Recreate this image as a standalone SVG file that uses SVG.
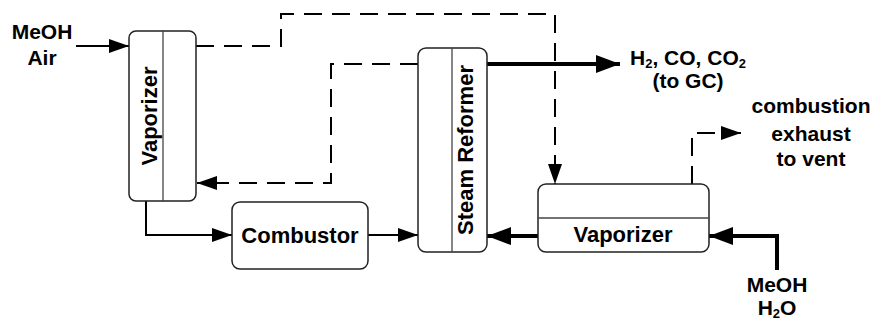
<svg xmlns="http://www.w3.org/2000/svg" width="871" height="322" viewBox="0 0 871 322">
<defs>
<style>
.box{fill:#fff;stroke:#222;stroke-width:1.5}
.div{stroke:#444;stroke-width:1.3}
.lbl{font-family:"Liberation Sans",Arial,sans-serif;font-weight:bold;font-size:22px;fill:#000;text-anchor:middle}
.txt{font-family:"Liberation Sans",Arial,sans-serif;font-weight:bold;font-size:21px;fill:#000;text-anchor:middle}
.thin{fill:none;stroke:#000;stroke-width:2}
.thick{fill:none;stroke:#000;stroke-width:4}
.dash{fill:none;stroke:#000;stroke-width:2;stroke-dasharray:18 10}
</style>
<marker id="ah" markerUnits="userSpaceOnUse" markerWidth="20" markerHeight="14" refX="20" refY="7" orient="auto"><path d="M0,0 L20,7 L0,14 z" fill="#000"/></marker>
<marker id="ahT" markerUnits="userSpaceOnUse" markerWidth="24" markerHeight="18" refX="24" refY="9" orient="auto"><path d="M0,0 L24,9 L0,18 z" fill="#000"/></marker>
</defs>

<g id="connectors">
<path class="thin" d="M76,46 H129" marker-end="url(#ah)"/>
<path class="thin" d="M146,201 V235 H232" marker-end="url(#ah)"/>
<path class="thin" d="M368,235 H418" marker-end="url(#ah)"/>
<path class="dash" d="M196,46 H281 V14 H555 V184" marker-end="url(#ah)"/>
<path class="dash" d="M418,64 H331 V183 H197" marker-end="url(#ah)"/>
<path class="thick" d="M487,64 H620" marker-end="url(#ahT)"/>
<path class="thick" d="M538,236 H487" marker-end="url(#ahT)"/>
<path class="thick" d="M777,270 V236 H709" marker-end="url(#ahT)"/>
<path class="dash" d="M692,184 V133 H741" marker-end="url(#ah)"/>
</g>

<g id="vaporizer-left">
<rect class="box" x="129" y="31" width="67" height="170" rx="7"/>
<line class="div" x1="163" y1="31" x2="163" y2="201"/>
<text class="lbl" transform="translate(157,116) rotate(-90)">Vaporizer</text>
</g>

<g id="combustor">
<rect class="box" x="232" y="202" width="136" height="67" rx="8"/>
<text class="lbl" x="300" y="243">Combustor</text>
</g>

<g id="steam-reformer">
<rect class="box" x="418" y="48" width="69" height="204" rx="8"/>
<line class="div" x1="452" y1="48" x2="452" y2="252"/>
<text class="lbl" transform="translate(473,150) rotate(-90)">Steam Reformer</text>
</g>

<g id="vaporizer-right">
<rect class="box" x="538" y="184" width="171" height="68" rx="8"/>
<line class="div" x1="538" y1="218" x2="709" y2="218"/>
<text class="lbl" x="623" y="242">Vaporizer</text>
</g>

<g id="labels">
<text class="txt" x="42" y="39">MeOH</text>
<text class="txt" x="42" y="65">Air</text>
<text class="txt" x="688" y="65">H<tspan font-size="13" dy="3">2</tspan><tspan dy="-3">, CO, CO</tspan><tspan font-size="13" dy="3">2</tspan></text>
<text class="txt" x="688" y="88">(to GC)</text>
<text class="txt" x="811" y="113">combustion</text>
<text class="txt" x="811" y="141">exhaust</text>
<text class="txt" x="811" y="166">to vent</text>
<text class="txt" x="777" y="292">MeOH</text>
<text class="txt" x="777" y="315">H<tspan font-size="13" dy="3">2</tspan><tspan dy="-3">O</tspan></text>
</g>
</svg>
